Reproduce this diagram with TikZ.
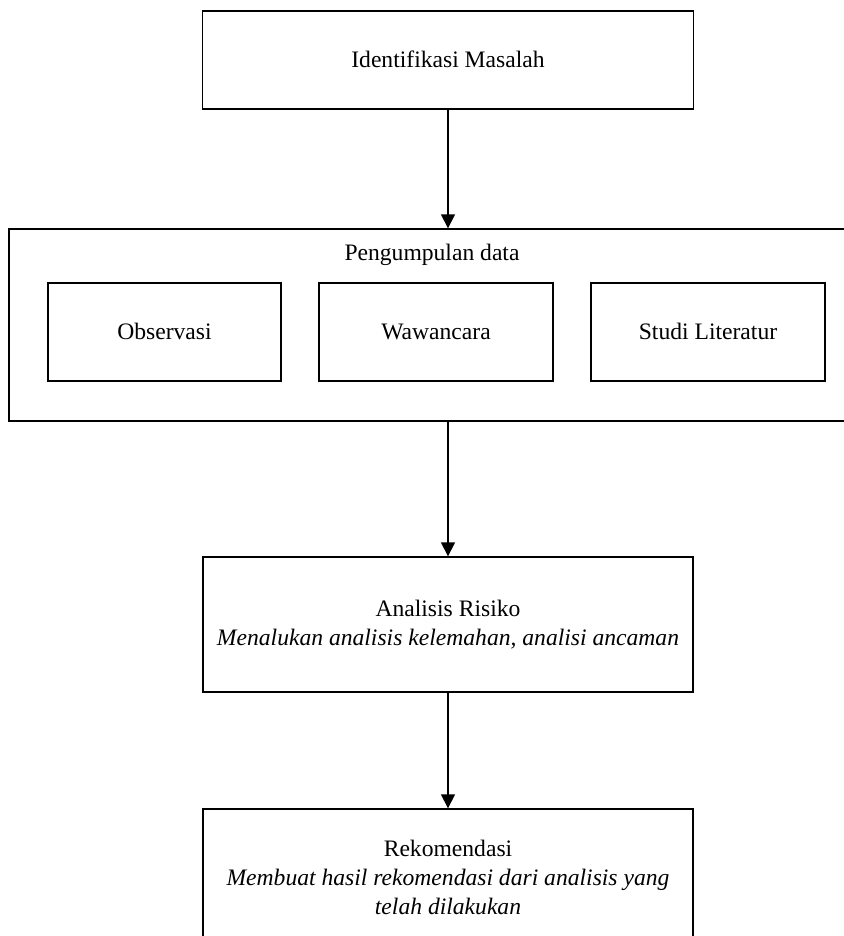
\documentclass[tikz,border=0pt]{standalone}
\usepackage{fontspec}
\setmainfont{Liberation Serif}
\usetikzlibrary{arrows.meta}
\begin{document}
\begin{tikzpicture}[x=1pt,y=-1pt,
  box/.style={draw=black,line width=1.4pt,rectangle,inner sep=0pt,align=center,
    font=\fontsize{23.6}{29}\selectfont},
  one/.style={text height=18pt,text depth=3pt},
  lbl/.style={inner sep=0pt,font=\fontsize{23.6}{29}\selectfont},
  arr/.style={draw=black,line width=1.6pt,-{Triangle[length=14pt,width=14pt]}}]
\useasboundingbox (0,0) rectangle (843,936);
\node[box,one,minimum width=491pt,minimum height=98pt] (idm) at (448,60) {Identifikasi Masalah};
\node[box,minimum width=837pt,minimum height=192pt] (pd) at (427.5,325) {};
\node[lbl,one] (pdl) at (432,253) {Pengumpulan data};
\node[box,one,minimum width=233pt,minimum height=98pt] (obs) at (164.5,332) {Observasi};
\node[box,one,minimum width=234pt,minimum height=98pt] (waw) at (436,332) {Wawancara};
\node[box,one,minimum width=234pt,minimum height=98pt] (stu) at (708,332) {Studi Literatur};
\node[box,minimum width=490pt,minimum height=135pt] (ana) at (448,624.5) {Analisis Risiko\\\textit{Menalukan analisis kelemahan, analisi ancaman}};
\node[box,minimum width=490pt,minimum height=136pt] (rek) at (448,877) {Rekomendasi\\\textit{Membuat hasil rekomendasi dari analisis yang}\\\textit{telah dilakukan}};
\draw[arr] (idm.south) -- (idm.south |- pd.north);
\draw[arr] (ana.north |- pd.south) -- (ana.north);
\draw[arr] (ana.south) -- (rek.north);
\end{tikzpicture}
\end{document}
